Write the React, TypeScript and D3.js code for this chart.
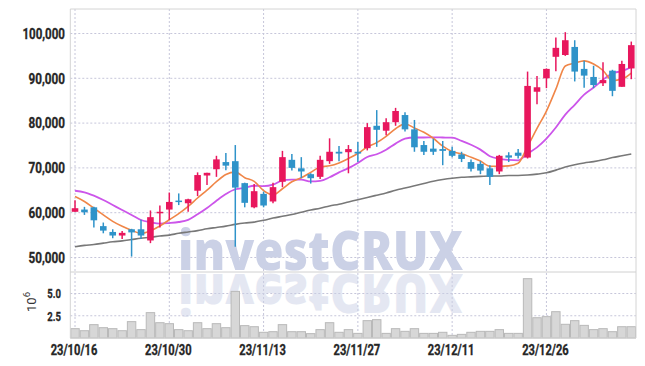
import React from "react";
import * as d3 from "d3";

const dates = [
  "23/10/16","23/10/17","23/10/18","23/10/19","23/10/20","23/10/23","23/10/24","23/10/25","23/10/26","23/10/27",
  "23/10/30","23/10/31","23/11/01","23/11/02","23/11/03","23/11/06","23/11/07","23/11/08","23/11/09","23/11/10",
  "23/11/13","23/11/14","23/11/15","23/11/16","23/11/17","23/11/20","23/11/21","23/11/22","23/11/23","23/11/24",
  "23/11/27","23/11/28","23/11/29","23/11/30","23/12/01","23/12/04","23/12/05","23/12/06","23/12/07","23/12/08",
  "23/12/11","23/12/12","23/12/13","23/12/14","23/12/15","23/12/18","23/12/19","23/12/20","23/12/21","23/12/22",
  "23/12/26","23/12/27","23/12/28","24/01/02","24/01/03","24/01/04","24/01/05","24/01/08","24/01/09","24/01/10",
];

const open = [
  60200,60700,61200,57000,55700,54900,56300,56300,53800,60000,
  60700,62700,62100,64900,68300,69700,71300,71500,66600,61200,
  64200,62500,66900,71800,69900,68600,68000,71500,73600,73500,
  73600,74400,79400,78300,80200,81800,78600,75100,74300,74200,
  73800,73000,71300,70900,69900,69200,72800,73400,72300,87000,
  90000,94800,95200,97000,92100,90300,88900,91700,88100,92200,
];
const high = [
  62800,61300,61300,57800,56300,55900,56400,58400,60500,61600,
  64500,64300,63100,69000,68900,72700,73300,75100,66700,66400,
  64700,66700,73800,73100,72400,68800,72700,76600,74900,75100,
  75800,80000,82900,81100,83400,82400,80700,76000,76500,76000,
  74700,73600,71900,71500,70600,72900,73500,74200,91500,90500,
  92200,99100,100300,98500,93900,92800,93600,91900,93900,98200,
];
const low = [
  60200,59500,56700,55400,54300,54100,50200,54100,53200,56700,
  58400,61700,60200,63700,66200,68000,69500,52400,61200,61000,
  61200,62100,65700,69400,67700,66500,67500,70900,71500,68800,
  71300,73900,74700,77300,79400,78100,73600,72900,72900,70600,
  72400,71300,69200,68600,66200,68600,71300,72100,72100,84200,
  87800,91600,95000,89300,87900,87800,88300,86000,88100,89800,
];
const close = [
  61000,60100,58300,56000,54900,55500,55600,54900,59000,60200,
  62400,62400,63000,68400,68900,71900,70500,65600,62200,64800,
  61600,65700,72400,70000,69200,67700,71800,73600,73200,74200,
  73200,79100,78500,80200,82700,78600,74600,73600,73600,73800,
  72700,72000,69800,69400,68000,72700,72300,72700,88300,88000,
  92100,96800,98500,91500,90600,88500,89600,87200,93200,97400,
];
const volumeM = [
  1.05,0.82,1.50,1.16,1.05,0.82,1.84,0.94,2.85,1.72,
  1.61,0.94,0.82,1.72,1.05,1.61,1.16,5.24,1.39,1.27,
  0.64,0.71,1.50,0.71,0.71,0.49,0.94,1.72,0.64,0.94,
  0.52,1.95,2.06,0.52,1.05,0.75,1.05,0.52,0.52,0.64,
  0.30,0.41,0.64,0.75,0.75,0.94,0.52,0.52,6.67,2.28,
  2.40,2.96,1.54,1.95,1.42,0.94,1.05,0.71,1.27,1.27,
];
const ma5 = [
  63600,62500,61000,59500,58060,56960,56060,55380,55980,57040,
  58420,59780,61400,63280,65020,66920,68540,69060,67820,67000,
  64940,63980,65340,66900,67780,69000,70220,70460,71100,72100,
  73200,74660,75640,77040,78740,79820,78920,77940,76620,74840,
  73660,73140,72380,71540,70380,70380,70440,71020,74800,78800,
  82680,87580,92740,93380,93900,93180,91740,89480,89820,91180,
];
const ma10 = [
  64900,64550,63800,62840,61720,60600,59500,58370,57860,57550,
  57690,57920,58390,59630,61030,62670,64160,65230,65550,66010,
  65930,66260,67200,67360,67390,66970,67100,67900,69000,69940,
  71100,72440,73050,74070,75420,76510,76790,76790,76830,76790,
  76740,76030,75160,74080,72610,72020,71790,71700,73170,74590,
  76530,79010,81880,84090,86350,87930,89660,91110,91600,92540,
];
const ma60 = [
  52400,52700,52900,53200,53500,53700,54000,54300,54500,54800,
  55000,55400,55700,56000,56400,56700,57000,57400,57700,57900,
  58300,58800,59200,59600,60100,60600,61000,61500,61900,62400,
  62900,63400,63900,64400,65000,65500,66000,66500,67000,67400,
  67700,67900,68000,68100,68200,68200,68300,68300,68400,68600,
  68900,69500,70200,70700,71100,71400,71800,72300,72700,73100,
];
const priceTicks = [50000, 60000, 70000, 80000, 90000, 100000];
const volumeTicks = [2.5, 5.0];
const tickEvery = 10;

const W = 645, H = 366;
const L = 70.3, R = 636;
const PT = 9, PB = 272, VB = 338;

const UP = "#e8175d";
const DOWN = "#2f93c9";
const FONT = "Roboto, 'DejaVu Sans', sans-serif";
const INK = "#262626";

const labelWidth = (s: string, scale: number) =>
  s.split("").reduce((w, ch) => w + (/[0-9]/.test(ch) ? 6.1 : ch === "," ? 6 : ch === "/" ? 5 : 3), 0) * scale;

export default function App() {
  const idx = dates.map((_, i) => i);
  const x = d3.scaleBand<number>().domain(idx).range([L, R]).padding(0);
  const cx = (i: number) => (x(i) as number) + x.bandwidth() / 2;
  const y = d3.scaleLinear().domain([46760, 105470]).range([PB, PT]);
  const yv = d3.scaleLinear().domain([0, 7.42]).range([VB, PB]);
  const fmt = d3.format(",");
  const bw = x.bandwidth() * 0.7;

  const line = (arr: number[]) =>
    d3.line<number>().x((_, i) => cx(i)).y((d) => y(d)).curve(d3.curveMonotoneX)(arr) as string;

  const tickIdx = idx.filter((i) => i % tickEvery === 0);
  const grid = "#c6c6da";
  const baseline = 270;

  return (
    <div style={{ position: "fixed", left: 0, top: 0, width: W, height: H, background: "#fff" }}>
      <svg width={W} height={H} style={{ display: "block" }}>
        <defs>
          <clipPath id="pc"><rect x={L} y={PT} width={R - L} height={PB - PT} /></clipPath>
          <clipPath id="vc"><rect x={L} y={PB} width={R - L} height={VB - PB} /></clipPath>
        </defs>
        {priceTicks.map((t) => (
          <line key={"h" + t} x1={L} x2={R} y1={y(t)} y2={y(t)} stroke={grid} strokeDasharray="2,2" />
        ))}
        {volumeTicks.map((t) => (
          <line key={"vh" + t} x1={L} x2={R} y1={yv(t)} y2={yv(t)} stroke={grid} strokeDasharray="2,2" />
        ))}
        {tickIdx.map((i) => (
          <line key={"v" + i} x1={cx(i)} x2={cx(i)} y1={PT} y2={VB} stroke={grid} strokeDasharray="2,2" />
        ))}
        <g clipPath="url(#pc)">
          <text id="wm" x={178} y={baseline} textLength={285} lengthAdjust="spacingAndGlyphs"
            fontFamily="'Open Sans', sans-serif" fontWeight={800} fontSize={54} fill="#cbd1e6">investCRUX</text>
        </g>
        <g clipPath="url(#vc)" opacity={0.5}>
          <use href="#wm" transform={`translate(0 ${2 * PB}) scale(1 -1)`} />
        </g>
        {volumeM.map((v, i) => (
          <rect key={"vol" + i} x={(x(i) as number) + 0.5} y={yv(v)} width={x.bandwidth() - 1}
            height={VB - yv(v)} fill="#d7d7d7" stroke="#b9b9b9" strokeWidth={1} />
        ))}
        <g clipPath="url(#pc)">
          <path d={line(ma60)} fill="none" stroke="#787878" strokeWidth={1.6} />
          <path d={line(ma10)} fill="none" stroke="#cc55ea" strokeWidth={1.8} />
          <path d={line(ma5)} fill="none" stroke="#f08648" strokeWidth={1.6} />
        </g>
        {idx.map((i) => {
          const up = close[i] >= open[i];
          const c = up ? UP : DOWN;
          const top = y(Math.max(open[i], close[i]));
          const bot = y(Math.min(open[i], close[i]));
          return (
            <g key={"c" + i}>
              <line x1={cx(i)} x2={cx(i)} y1={y(high[i])} y2={y(low[i])} stroke={c} strokeWidth={1.5} />
              <rect x={cx(i) - bw / 2} y={top} width={bw} height={Math.max(1.5, bot - top)} fill={c} />
            </g>
          );
        })}
        <line x1={L} x2={R} y1={PT} y2={PT} stroke="#d4d4d4" />
        <line x1={L} x2={L} y1={PT} y2={VB} stroke="#d4d4d4" />
        <line x1={R} x2={R} y1={PT} y2={VB} stroke="#d4d4d4" />
        <line x1={L} x2={R} y1={PB} y2={PB} stroke="#d0d0d0" />
        <line x1={L} x2={R} y1={VB} y2={VB} stroke="#d0d0d0" />
        {priceTicks.map((t) => {
          const s = fmt(t);
          return (
            <text key={"pl" + t} x={65} y={y(t)} dy="0.36em" textAnchor="end" textLength={labelWidth(s, 1)}
              lengthAdjust="spacingAndGlyphs" fontFamily={FONT} fontSize={15} fontWeight={700} fill={INK}
              stroke={INK} strokeWidth={0.35}>{s}</text>
          );
        })}
        {volumeTicks.map((t) => {
          const s = t.toFixed(1);
          return (
            <text key={"vl" + t} x={61} y={yv(t)} dy="0.36em" textAnchor="end" textLength={labelWidth(s, 0.9)}
              lengthAdjust="spacingAndGlyphs" fontFamily={FONT} fontSize={13.5} fontWeight={700} fill={INK}
              stroke={INK} strokeWidth={0.3}>{s}</text>
          );
        })}
        <text transform="translate(36 302) rotate(-90)" textAnchor="middle"
          fontFamily={FONT} fontSize={13} fill="#333">10<tspan dy="-6" fontSize={9.5}>6</tspan></text>
        {tickIdx.map((i) => (
          <text key={"xl" + i} x={cx(i) - 1} y={355} textAnchor="middle" textLength={labelWidth(dates[i], 1)}
            lengthAdjust="spacingAndGlyphs" fontFamily={FONT} fontSize={15} fontWeight={700} fill={INK}
            stroke={INK} strokeWidth={0.35}>{dates[i]}</text>
        ))}
      </svg>
    </div>
  );
}
